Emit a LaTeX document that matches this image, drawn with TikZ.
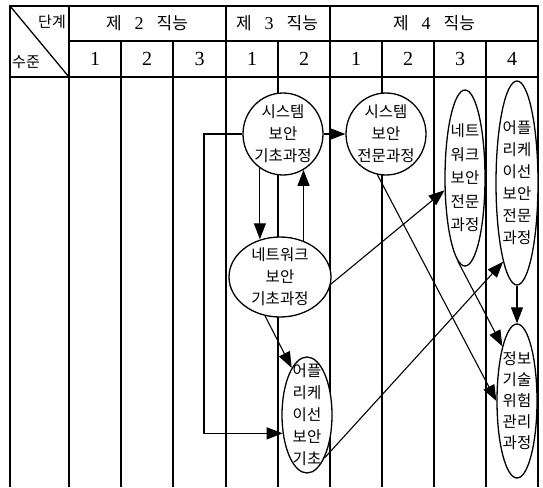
\documentclass[tikz,border=0pt]{standalone}
\usepackage{fontspec}
\setmainfont{Liberation Serif}
\newfontfamily\kr{Noto Sans CJK KR}
\usetikzlibrary{arrows.meta,shapes.geometric}
\begin{document}
\begin{tikzpicture}[x=1pt,y=-1pt,
  gridline/.style={line width=1.3pt},
  borderline/.style={line width=2.8pt},
  nd/.style={ellipse, draw, line width=1.3pt, fill=white, inner sep=0pt},
  ndtext/.style={align=center, inner sep=0pt, font=\kr\fontsize{15.5}{22}\selectfont},
  arr/.style={line width=1.1pt, -{Triangle[length=16pt,width=12pt]}},
  hd/.style={font=\kr\fontsize{17}{18}\selectfont, inner sep=0pt},
  num/.style={font=\rmfamily\fontsize{20}{20}\selectfont, inner sep=0pt},
  corner/.style={font=\kr\fontsize{15}{16}\selectfont, inner sep=0pt}
]
\useasboundingbox (0,0) rectangle (543,487);
% table
\draw[line width=1.6pt] (10,6) -- (538,6);
\draw[borderline] (10,5) -- (10,487);
\draw[borderline] (538,5) -- (538,487);
\foreach \x in {69,226,330} \draw[gridline] (\x,6) -- (\x,487);
\foreach \x in {121,173,278,382,434,486} \draw[gridline] (\x,41) -- (\x,487);
\draw[gridline] (69,41) -- (538,41);
\draw[gridline] (10,77) -- (538,77);
\draw[gridline] (10,6) -- (69,77);
% header texts
\node[corner, anchor=east] (dg) at (66,22) {단계};
\node[corner, anchor=west] (sj) at (12,62) {수준};
\node[hd] (g2) at (147,23.5) {제\hspace{13pt}{\rmfamily\fontsize{18}{18}\selectfont 2}\hspace{13pt}직능};
\node[hd] (g3) at (277,23.5) {제\hspace{13pt}{\rmfamily\fontsize{18}{18}\selectfont 3}\hspace{13pt}직능};
\node[hd] (g4) at (434,23.5) {제\hspace{13pt}{\rmfamily\fontsize{18}{18}\selectfont 4}\hspace{13pt}직능};
\foreach \x/\t [count=\i] in {95/1,147/2,199.5/3,252/1,304/2,356/1,408/2,460/3,512/4}
  \node[num] (h\i) at (\x,59) {\t};
% nodes
\node[nd, minimum width=80pt, minimum height=82pt,
  label={[ndtext]center:시스템\\보안\\기초과정}] (c1) at (283,134) {};
\node[nd, minimum width=80pt, minimum height=82pt,
  label={[ndtext]center:시스템\\보안\\전문과정}] (c2) at (386,134) {};
\node[nd, minimum width=102pt, minimum height=80pt,
  label={[ndtext]center:네트워크\\보안\\기초과정}] (n1) at (280,277) {};
\node[nd, minimum width=50pt, minimum height=116pt,
  label={[ndtext]center:어플\\리케\\이선\\보안\\기초}] (a1) at (307,415) {};
\node[nd, minimum width=40pt, minimum height=176pt,
  label={[ndtext, font=\kr\fontsize{15.5}{23.5}\selectfont]center:네트\\워크\\보안\\전문\\과정}] (w2) at (465,178) {};
\node[nd, minimum width=42pt, minimum height=204pt,
  label={[ndtext]center:어플\\리케\\이선\\보안\\전문\\과정}] (p2) at (517,183) {};
\node[nd, minimum width=40pt, minimum height=154pt,
  label={[ndtext, font=\kr\fontsize{15.5}{21}\selectfont]center:정보\\기술\\위험\\관리\\과정}] (q) at (517,401) {};
% connectors
\coordinate (jt) at (204,300);
\draw[arr] (c1.east) -- (c2.west);
\draw[arr] (c1.236) -- (c1.236 |- n1.117);
\draw[arr] (n1.57) -- (n1.57 |- c1.-60);
\draw[arr] (c1.west) -| (jt) |- (a1.217);
\draw[arr] (n1.249) -- (a1.108);
\draw[arr] (n1.-8) -- (w2.211);
\draw[arr] (a1.-68) -- (p2.260);
\draw[arr] (c2.258) -- (q.west);
\draw[arr] (w2.265) -- (q.105);
\draw[arr] (p2.south) -- (q.north);
\end{tikzpicture}
\end{document}
